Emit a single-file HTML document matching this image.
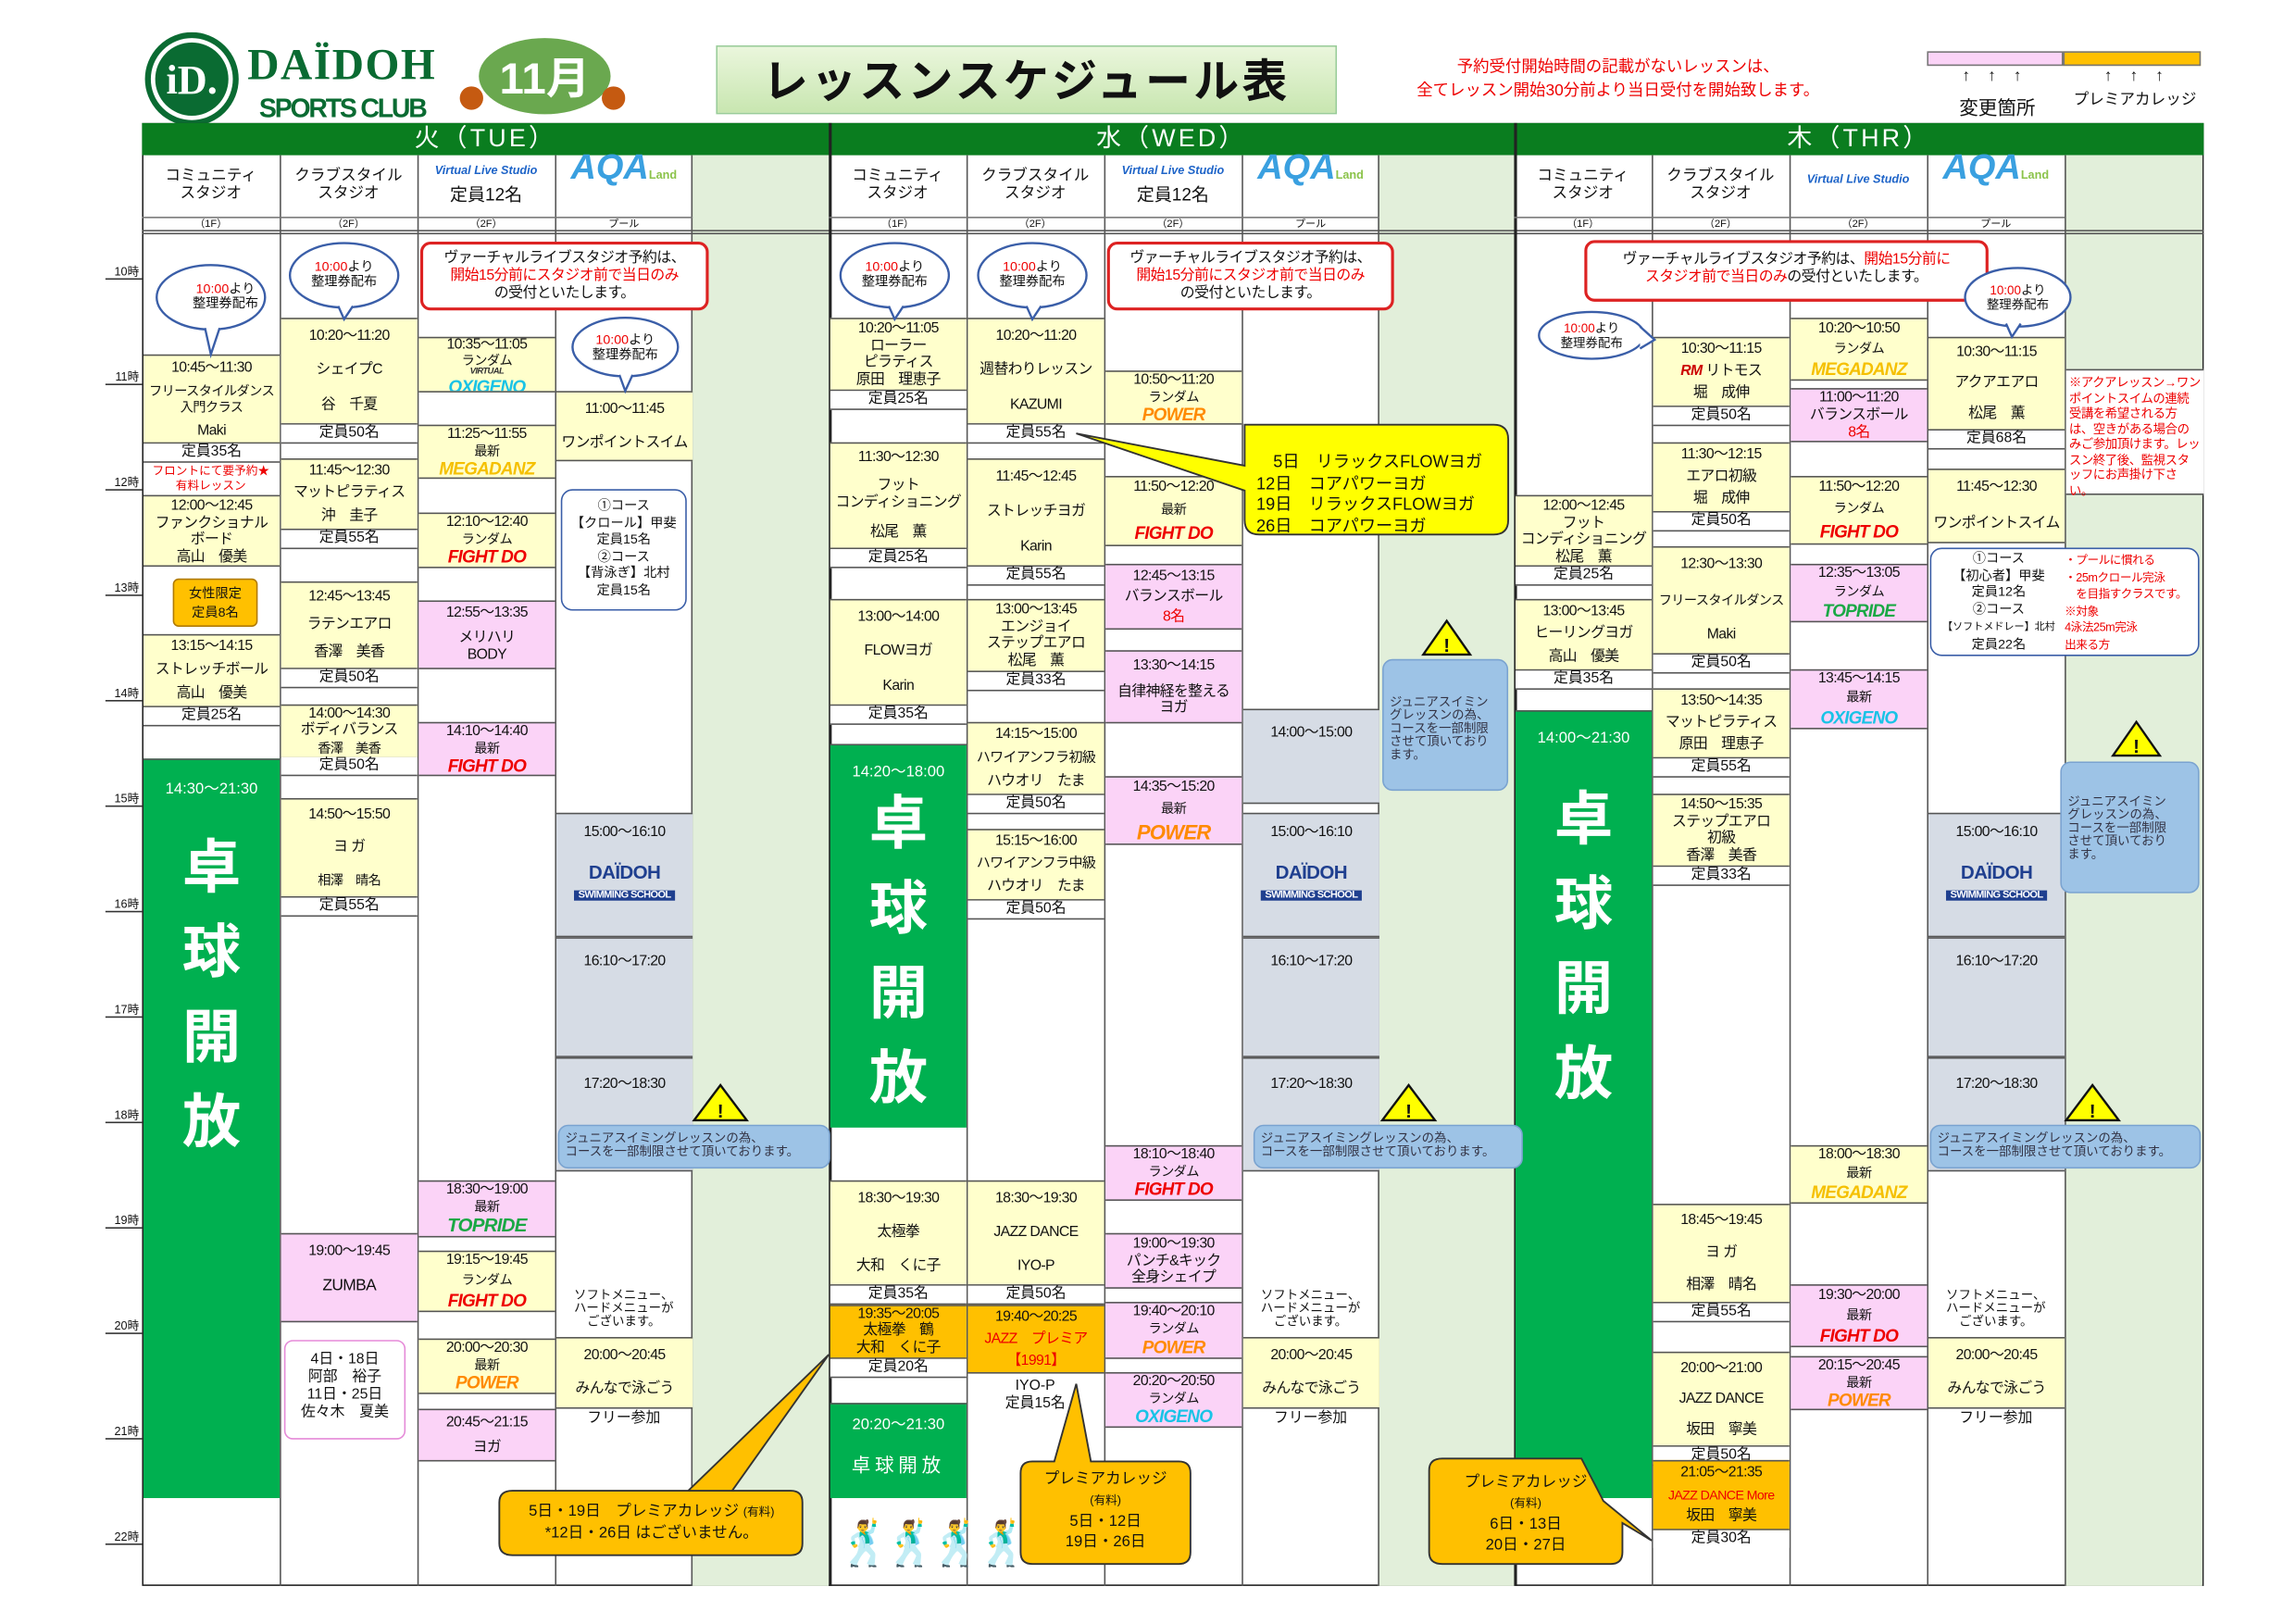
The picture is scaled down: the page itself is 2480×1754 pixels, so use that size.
<!DOCTYPE html>
<html><head><meta charset="utf-8">
<style>
*{margin:0;padding:0;box-sizing:border-box}
html,body{width:2480px;height:1754px;overflow:hidden;background:#fff}
#s{position:absolute;left:0;top:0;width:1568px;height:1109px;transform:scale(1.58163);transform-origin:0 0;font-family:"Liberation Sans","Noto Sans CJK JP",sans-serif;color:#111}
.a{position:absolute}
.b{position:absolute;width:93px;margin-left:1px;font-size:10px;letter-spacing:-.4px;line-height:12px;text-align:center;display:flex;flex-direction:column;justify-content:space-around;align-items:center;border-top:1px solid #555;border-bottom:1px solid #555;overflow:hidden;white-space:nowrap}
.y{background:#ffffcc}.p{background:#fbd3f7}.o{background:#ffc000}.g{background:#d6dce5}.w{background:#fff}
.c{position:absolute;width:93px;margin-left:1px;font-size:10px;line-height:12px;text-align:center;border-bottom:1px solid #555;background:#fff}
.v{font-size:6px;font-weight:bold;font-style:italic;line-height:7px;color:#333}
.l{font-weight:bold;font-style:italic;font-size:12px;line-height:12px;letter-spacing:-.5px}
.ox{color:#19c3e6}.mg{color:#f5c000}.fd{color:#e00}.pw{color:#ff8a00}.tp{color:#1aa845}
.tk{position:absolute;width:93px;margin-left:1px;background:#00b050;color:#fff;text-align:center;border-top:1px solid #555}
.tk .big{font-size:40px;line-height:58px;font-weight:bold}
.vl{position:absolute;top:106px;width:1px;height:977px;background:#555}
.tl{position:absolute;left:72px;width:25px;border-bottom:1px solid #333;font-size:8px;text-align:right;padding-right:2px;line-height:9px}
.rb{position:absolute;background:#fff;border:2px solid #d22;border-radius:7px;font-size:10px;line-height:12px;text-align:center;padding-top:4px;letter-spacing:-.3px}
.r{color:#e00}
.cb{position:absolute;background:#9dc3e6;border:1px solid #7aa3d0;border-radius:7px;font-size:8.5px;line-height:9px;color:#334;padding:4px}
.hd{position:absolute;top:106px;height:42px;width:94px;font-size:10.5px;line-height:12px;text-align:center;padding-top:8px}
.fl{position:absolute;top:148px;height:9px;width:94px;font-size:7px;line-height:9px;text-align:center;border-top:1px solid #777}
.pg{position:absolute;top:106px;height:977px;width:94px;background:#e2efda}
.sm{position:absolute;font-size:9px;line-height:10px;text-align:center;width:94px}
</style></head><body><div id="s">

<!-- header -->
<svg class="a" style="left:97px;top:22px" width="330" height="64">
<circle cx="34" cy="32" r="30" fill="#fff" stroke="#0a6b32" stroke-width="4"/>
<circle cx="34" cy="32" r="25" fill="#0a6b32"/>
<text x="34" y="42" font-size="28" font-weight="bold" fill="#fff" text-anchor="middle" font-family="Liberation Serif">iD.</text>
<text x="72" y="32" font-size="30" font-weight="bold" fill="#0a6b32" font-family="Liberation Serif" textLength="128">DAÏDOH</text>
<text x="80" y="58" font-size="18" font-weight="bold" fill="#0a6b32" textLength="115">SPORTS CLUB</text>
<ellipse cx="275" cy="30" rx="45" ry="26" fill="#6aa84f"/>
<text x="275" y="42" font-size="30" font-weight="bold" fill="#fff" text-anchor="middle">11月</text>
<circle cx="225" cy="45" r="8" fill="#c55a11"/><circle cx="322" cy="45" r="8" fill="#c55a11"/>
</svg>
<div class="a" style="left:489px;top:31px;width:424px;height:47px;background:linear-gradient(#eaf6dc,#c8e6b0);border:1px solid #9c9;font-size:31px;font-weight:bold;text-align:center;line-height:47px;letter-spacing:2px">レッスンスケジュール表</div>
<div class="a r" style="left:950px;top:38px;width:310px;font-size:11px;line-height:16px;text-align:center">予約受付開始時間の記載がないレッスンは、<br>全てレッスン開始30分前より当日受付を開始致します。</div>
<div class="a" style="left:1316px;top:35px;width:93px;height:10px;background:#fbd3f7;border:1px solid #777"></div>
<div class="a" style="left:1409px;top:35px;width:94px;height:10px;background:#ffc000;border:1px solid #777"></div>
<div class="a" style="left:1340px;top:46px;font-size:11px;letter-spacing:12px">↑↑↑</div>
<div class="a" style="left:1437px;top:46px;font-size:11px;letter-spacing:12px">↑↑↑</div>
<div class="a" style="left:1338px;top:63px;font-size:13px">変更箇所</div>
<div class="a" style="left:1416px;top:60px;font-size:10.5px">プレミアカレッジ</div>

<!-- table frame -->
<div class="a" style="left:97px;top:84px;width:1408px;height:999px;border:1.5px solid #222"></div>
<div class="a" style="left:97px;top:84px;width:1408px;height:22px;background:#0a7d1f;color:#fff;font-size:17px;line-height:22px">
<span class="a" style="left:0;width:469px;text-align:center;letter-spacing:2px">火（TUE）</span>
<span class="a" style="left:469px;width:468px;text-align:center;letter-spacing:2px">水（WED）</span>
<span class="a" style="left:937px;width:471px;text-align:center;letter-spacing:2px">木（THR）</span></div>
<div class="pg" style="left:472px"></div><div class="pg" style="left:941px"></div><div class="pg" style="left:1410px"></div>
<div class="a" style="left:97px;top:157px;width:1408px;height:3px;border-top:1px solid #555;border-bottom:1px solid #555"></div>

<!-- vertical lines -->
<div class="vl" style="left:191px"></div><div class="vl" style="left:285px"></div><div class="vl" style="left:379px"></div><div class="vl" style="left:472px"></div>
<div class="vl" style="left:566px;top:84px;height:999px;width:1.5px;background:#222"></div>
<div class="vl" style="left:660px"></div><div class="vl" style="left:754px"></div><div class="vl" style="left:848px"></div><div class="vl" style="left:941px"></div>
<div class="vl" style="left:1034px;top:84px;height:999px;width:1.5px;background:#222"></div>
<div class="vl" style="left:1128px"></div><div class="vl" style="left:1222px"></div><div class="vl" style="left:1316px"></div><div class="vl" style="left:1410px"></div>

<!-- col headers -->
<div class="hd" style="left:97px">コミュニティ<br>スタジオ</div><div class="hd" style="left:191px">クラブスタイル<br>スタジオ</div>
<div class="hd" style="left:285px;padding-top:4px"><span style="color:#1e64c8;font-size:8px;font-weight:bold;font-style:italic">Virtual Live Studio</span><br><span style="font-size:12px;line-height:20px">定員12名</span></div>
<div class="hd" style="left:379px;padding-top:3px"><span style="color:#3aa0e0;font-size:24px;font-weight:bold;font-style:italic">AQA</span><span style="color:#8bc34a;font-size:8px;font-weight:bold">Land</span></div>
<div class="hd" style="left:566px">コミュニティ<br>スタジオ</div><div class="hd" style="left:660px">クラブスタイル<br>スタジオ</div>
<div class="hd" style="left:754px;padding-top:4px"><span style="color:#1e64c8;font-size:8px;font-weight:bold;font-style:italic">Virtual Live Studio</span><br><span style="font-size:12px;line-height:20px">定員12名</span></div>
<div class="hd" style="left:848px;padding-top:3px"><span style="color:#3aa0e0;font-size:24px;font-weight:bold;font-style:italic">AQA</span><span style="color:#8bc34a;font-size:8px;font-weight:bold">Land</span></div>
<div class="hd" style="left:1034px">コミュニティ<br>スタジオ</div><div class="hd" style="left:1128px">クラブスタイル<br>スタジオ</div>
<div class="hd" style="left:1222px;padding-top:10px"><span style="color:#1e64c8;font-size:8px;font-weight:bold;font-style:italic">Virtual Live Studio</span></div>
<div class="hd" style="left:1316px;padding-top:3px"><span style="color:#3aa0e0;font-size:24px;font-weight:bold;font-style:italic">AQA</span><span style="color:#8bc34a;font-size:8px;font-weight:bold">Land</span></div>
<div class="fl" style="left:97px">（1F）</div><div class="fl" style="left:191px">（2F）</div><div class="fl" style="left:285px">（2F）</div><div class="fl" style="left:379px">プール</div>
<div class="fl" style="left:566px">（1F）</div><div class="fl" style="left:660px">（2F）</div><div class="fl" style="left:754px">（2F）</div><div class="fl" style="left:848px">プール</div>
<div class="fl" style="left:1034px">（1F）</div><div class="fl" style="left:1128px">（2F）</div><div class="fl" style="left:1222px">（2F）</div><div class="fl" style="left:1316px">プール</div>

<!-- time labels -->
<div class="tl" style="top:181px">10時</div><div class="tl" style="top:253px">11時</div><div class="tl" style="top:325px">12時</div><div class="tl" style="top:397px">13時</div><div class="tl" style="top:469px">14時</div><div class="tl" style="top:541px">15時</div><div class="tl" style="top:613px">16時</div><div class="tl" style="top:685px">17時</div><div class="tl" style="top:757px">18時</div><div class="tl" style="top:829px">19時</div><div class="tl" style="top:901px">20時</div><div class="tl" style="top:973px">21時</div><div class="tl" style="top:1045px">22時</div>

<!-- ===== TUE ===== -->
<div class="b y" style="left:97px;top:242px;height:61px;line-height:11px"><span>10:45～11:30</span><span style="font-size:9px">フリースタイルダンス<br>入門クラス</span><span>Maki</span></div>
<div class="c" style="left:97px;top:303px">定員35名</div>
<div class="sm r" style="left:97px;top:317px;font-size:8px">フロントにて要予約★<br>有料レッスン</div>
<div class="b y" style="left:97px;top:338px;height:49px;line-height:11px"><span>12:00～12:45</span><span>ファンクショナル<br>ボード</span><span>高山　優美</span></div>
<div class="a" style="left:118px;top:395px;width:58px;height:33px;background:#ffc000;border:1px solid #b07a00;border-radius:4px;font-size:9px;line-height:13px;text-align:center;padding-top:3px">女性限定<br>定員8名</div>
<div class="b y" style="left:97px;top:433px;height:50px"><span>13:15～14:15</span><span>ストレッチボール</span><span>高山　優美</span></div>
<div class="c" style="left:97px;top:483px">定員25名</div>
<div class="tk" style="left:97px;top:518px;height:505px"><div style="font-size:10.5px;margin-top:12px">14:30～21:30</div><div class="big" style="margin-top:18px">卓<br>球<br>開<br>放</div></div>

<div class="b y" style="left:191px;top:217px;height:73px"><span>10:20～11:20</span><span>シェイプC</span><span>谷　千夏</span></div>
<div class="c" style="left:191px;top:290px">定員50名</div>
<div class="b y" style="left:191px;top:313px;height:49px"><span>11:45～12:30</span><span>マットピラティス</span><span>沖　圭子</span></div>
<div class="c" style="left:191px;top:362px">定員55名</div>
<div class="b y" style="left:191px;top:397px;height:60px"><span>12:45～13:45</span><span>ラテンエアロ</span><span>香澤　美香</span></div>
<div class="c" style="left:191px;top:457px">定員50名</div>
<div class="b y" style="left:191px;top:481px;height:37px;line-height:10px"><span>14:00～14:30</span><span>ボディバランス</span><span style="font-size:9px">香澤　美香</span></div>
<div class="c" style="left:191px;top:517px">定員50名</div>
<div class="b y" style="left:191px;top:545px;height:68px"><span>14:50～15:50</span><span>ヨ ガ</span><span style="font-size:9px">相澤　晴名</span></div>
<div class="c" style="left:191px;top:613px">定員55名</div>
<div class="b p" style="left:191px;top:842px;height:61px"><span>19:00～19:45</span><span style="font-size:11px">ZUMBA</span><span></span></div>
<div class="a" style="left:194px;top:915px;width:83px;height:68px;background:#fff;border:1.5px solid #e58ad8;border-radius:6px;font-size:10px;line-height:12px;text-align:center;padding-top:7px">4日・18日<br>阿部　裕子<br>11日・25日<br>佐々木　夏美</div>

<div class="b y" style="left:285px;top:230px;height:38px;line-height:10px"><span>10:35～11:05</span><span style="font-size:9px">ランダム</span><span class="v">VIRTUAL</span><span class="l ox">OXIGENO</span></div>
<div class="b y" style="left:285px;top:290px;height:37px;line-height:10px"><span>11:25～11:55</span><span style="font-size:9px">最新</span><span class="l mg">MEGADANZ</span></div>
<div class="b y" style="left:285px;top:350px;height:38px;line-height:10px"><span>12:10～12:40</span><span style="font-size:9px">ランダム</span><span class="l fd">FIGHT DO</span></div>
<div class="b p" style="left:285px;top:410px;height:47px"><span>12:55～13:35</span><span>メリハリ<br>BODY</span></div>
<div class="b p" style="left:285px;top:493px;height:37px;line-height:10px"><span>14:10～14:40</span><span style="font-size:9px">最新</span><span class="l fd">FIGHT DO</span></div>
<div class="b p" style="left:285px;top:806px;height:39px;line-height:10px"><span>18:30～19:00</span><span style="font-size:9px">最新</span><span class="l tp" style="font-size:13px">TOPRIDE</span></div>
<div class="b y" style="left:285px;top:854px;height:42px;line-height:10px"><span>19:15～19:45</span><span style="font-size:9px">ランダム</span><span class="l fd">FIGHT DO</span></div>
<div class="b y" style="left:285px;top:914px;height:38px;line-height:10px"><span>20:00～20:30</span><span style="font-size:9px">最新</span><span class="l pw">POWER</span></div>
<div class="b p" style="left:285px;top:962px;height:36px"><span>20:45～21:15</span><span>ヨガ</span></div>

<div class="b y" style="left:379px;top:267px;height:48px"><span>11:00～11:45</span><span>ワンポイントスイム</span></div>
<div class="b g" style="left:379px;top:555px;height:85px"><span>15:00～16:10</span><span style="color:#1f3f8f;font-weight:bold;font-size:13px;line-height:13px">DAÏDOH<br><span style="font-size:7px;background:#1f3f8f;color:#fff;padding:0 3px">SWIMMING SCHOOL</span></span><span></span></div>
<div class="b g" style="left:379px;top:640px;height:82px;justify-content:flex-start;padding-top:10px"><span>16:10～17:20</span></div>
<div class="b g" style="left:379px;top:722px;height:78px;justify-content:flex-start;padding-top:12px"><span>17:20～18:30</span></div>
<div class="sm" style="left:379px;top:880px;font-size:8.5px;line-height:9px">ソフトメニュー、<br>ハードメニューが<br>ございます。</div>
<div class="b y" style="left:379px;top:913px;height:49px"><span>20:00～20:45</span><span>みんなで泳ごう</span></div>
<div class="sm" style="left:379px;top:964px;font-size:10px">フリー参加</div>

<!-- ===== WED ===== -->
<div class="b y" style="left:566px;top:217px;height:50px;line-height:11px"><span>10:20～11:05</span><span>ローラー<br>ピラティス</span><span>原田　理恵子</span></div>
<div class="c" style="left:566px;top:267px">定員25名</div>
<div class="b y" style="left:566px;top:302px;height:73px"><span>11:30～12:30</span><span>フット<br>コンディショニング</span><span>松尾　薫</span></div>
<div class="c" style="left:566px;top:375px">定員25名</div>
<div class="b y" style="left:566px;top:409px;height:73px"><span>13:00～14:00</span><span>FLOWヨガ</span><span>Karin</span></div>
<div class="c" style="left:566px;top:482px">定員35名</div>
<div class="tk" style="left:566px;top:508px;height:262px"><div style="font-size:10.5px;margin-top:10px">14:20～18:00</div><div class="big" style="margin-top:0px">卓<br>球<br>開<br>放</div></div>
<div class="b y" style="left:566px;top:806px;height:72px"><span>18:30～19:30</span><span>太極拳</span><span>大和　くに子</span></div>
<div class="c" style="left:566px;top:878px">定員35名</div>
<div class="b o" style="left:566px;top:891px;height:37px;line-height:10px"><span>19:35～20:05</span><span>太極拳　鶴</span><span>大和　くに子</span></div>
<div class="c" style="left:566px;top:928px">定員20名</div>
<div class="tk" style="left:566px;top:958px;height:65px"><div style="font-size:10.5px;margin-top:6px">20:20～21:30</div><div style="font-size:13px;margin-top:10px;letter-spacing:3px">卓球開放</div></div>
<div class="a" style="left:572px;top:1035px;font-size:30px;line-height:40px;letter-spacing:-6px">🕺🕺🕺🕺</div>

<div class="b y" style="left:660px;top:217px;height:73px"><span>10:20～11:20</span><span>週替わりレッスン</span><span>KAZUMI</span></div>
<div class="c" style="left:660px;top:290px">定員55名</div>
<div class="b y" style="left:660px;top:313px;height:74px"><span>11:45～12:45</span><span>ストレッチヨガ</span><span>Karin</span></div>
<div class="c" style="left:660px;top:387px">定員55名</div>
<div class="b y" style="left:660px;top:409px;height:50px;line-height:11px"><span>13:00～13:45</span><span>エンジョイ<br>ステップエアロ</span><span>松尾　薫</span></div>
<div class="c" style="left:660px;top:459px">定員33名</div>
<div class="b y" style="left:660px;top:493px;height:50px"><span>14:15～15:00</span><span style="font-size:9.5px">ハワイアンフラ初級</span><span>ハウオリ　たま</span></div>
<div class="c" style="left:660px;top:543px">定員50名</div>
<div class="b y" style="left:660px;top:566px;height:49px"><span>15:15～16:00</span><span style="font-size:9.5px">ハワイアンフラ中級</span><span>ハウオリ　たま</span></div>
<div class="c" style="left:660px;top:615px">定員50名</div>
<div class="b y" style="left:660px;top:806px;height:72px"><span>18:30～19:30</span><span>JAZZ DANCE</span><span>IYO-P</span></div>
<div class="c" style="left:660px;top:878px">定員50名</div>
<div class="b o" style="left:660px;top:891px;height:47px"><span>19:40～20:25</span><span class="r">JAZZ　プレミア</span><span class="r">【1991】</span></div>
<div class="sm" style="left:660px;top:941px;font-size:10px;line-height:12px">IYO-P<br>定員15名</div>

<div class="b y" style="left:754px;top:253px;height:37px;line-height:10px"><span>10:50～11:20</span><span style="font-size:9px">ランダム</span><span class="l pw">POWER</span></div>
<div class="b y" style="left:754px;top:325px;height:48px;line-height:10px"><span>11:50～12:20</span><span style="font-size:9px">最新</span><span class="l fd">FIGHT DO</span></div>
<div class="b p" style="left:754px;top:385px;height:45px;line-height:11px"><span>12:45～13:15</span><span>バランスボール</span><span class="r">8名</span></div>
<div class="b p" style="left:754px;top:444px;height:50px;line-height:11px"><span>13:30～14:15</span><span>自律神経を整える<br>ヨガ</span></div>
<div class="b p" style="left:754px;top:530px;height:47px;line-height:10px"><span>14:35～15:20</span><span style="font-size:9px">最新</span><span class="l pw" style="font-size:14px">POWER</span></div>
<div class="b p" style="left:754px;top:782px;height:38px;line-height:10px"><span>18:10～18:40</span><span style="font-size:9px">ランダム</span><span class="l fd">FIGHT DO</span></div>
<div class="b p" style="left:754px;top:842px;height:38px;line-height:11px"><span>19:00～19:30</span><span>パンチ&amp;キック<br>全身シェイプ</span></div>
<div class="b p" style="left:754px;top:889px;height:39px;line-height:10px"><span>19:40～20:10</span><span style="font-size:9px">ランダム</span><span class="l pw">POWER</span></div>
<div class="b p" style="left:754px;top:937px;height:38px;line-height:10px"><span>20:20～20:50</span><span style="font-size:9px">ランダム</span><span class="l ox">OXIGENO</span></div>

<div class="b g" style="left:848px;top:484px;height:65px;justify-content:flex-start;padding-top:10px"><span>14:00～15:00</span></div>
<div class="b g" style="left:848px;top:555px;height:85px"><span>15:00～16:10</span><span style="color:#1f3f8f;font-weight:bold;font-size:13px;line-height:13px">DAÏDOH<br><span style="font-size:7px;background:#1f3f8f;color:#fff;padding:0 3px">SWIMMING SCHOOL</span></span><span></span></div>
<div class="b g" style="left:848px;top:640px;height:82px;justify-content:flex-start;padding-top:10px"><span>16:10～17:20</span></div>
<div class="b g" style="left:848px;top:722px;height:78px;justify-content:flex-start;padding-top:12px"><span>17:20～18:30</span></div>
<div class="sm" style="left:848px;top:880px;font-size:8.5px;line-height:9px">ソフトメニュー、<br>ハードメニューが<br>ございます。</div>
<div class="b y" style="left:848px;top:913px;height:49px"><span>20:00～20:45</span><span>みんなで泳ごう</span></div>
<div class="sm" style="left:848px;top:964px;font-size:10px">フリー参加</div>

<!-- ===== THU ===== -->
<div class="b y" style="left:1034px;top:338px;height:49px;line-height:11px"><span>12:00～12:45</span><span>フット<br>コンディショニング</span><span>松尾　薫</span></div>
<div class="c" style="left:1034px;top:387px">定員25名</div>
<div class="b y" style="left:1034px;top:409px;height:49px"><span>13:00～13:45</span><span>ヒーリングヨガ</span><span>高山　優美</span></div>
<div class="c" style="left:1034px;top:458px">定員35名</div>
<div class="tk" style="left:1034px;top:485px;height:538px"><div style="font-size:10.5px;margin-top:10px">14:00～21:30</div><div class="big" style="margin-top:20px">卓<br>球<br>開<br>放</div></div>

<div class="b y" style="left:1128px;top:230px;height:48px"><span>10:30～11:15</span><span><b style="color:#c00;font-style:italic">RM</b> リトモス</span><span>堀　成伸</span></div>
<div class="c" style="left:1128px;top:278px">定員50名</div>
<div class="b y" style="left:1128px;top:302px;height:48px"><span>11:30～12:15</span><span>エアロ初級</span><span>堀　成伸</span></div>
<div class="c" style="left:1128px;top:350px">定員50名</div>
<div class="b y" style="left:1128px;top:373px;height:74px"><span>12:30～13:30</span><span style="font-size:9px">フリースタイルダンス</span><span>Maki</span></div>
<div class="c" style="left:1128px;top:447px">定員50名</div>
<div class="b y" style="left:1128px;top:470px;height:48px"><span>13:50～14:35</span><span>マットピラティス</span><span>原田　理恵子</span></div>
<div class="c" style="left:1128px;top:518px">定員55名</div>
<div class="b y" style="left:1128px;top:542px;height:50px;line-height:11px"><span>14:50～15:35</span><span>ステップエアロ<br>初級</span><span>香澤　美香</span></div>
<div class="c" style="left:1128px;top:592px">定員33名</div>
<div class="b y" style="left:1128px;top:822px;height:68px"><span>18:45～19:45</span><span>ヨ ガ</span><span>相澤　晴名</span></div>
<div class="c" style="left:1128px;top:890px">定員55名</div>
<div class="b y" style="left:1128px;top:923px;height:65px"><span>20:00～21:00</span><span>JAZZ DANCE</span><span>坂田　寧美</span></div>
<div class="c" style="left:1128px;top:988px">定員50名</div>
<div class="b o" style="left:1128px;top:997px;height:48px"><span>21:05～21:35</span><span class="r" style="font-size:9px">JAZZ DANCE More</span><span>坂田　寧美</span></div>
<div class="c" style="left:1128px;top:1045px;border-bottom:none">定員30名</div>

<div class="b y" style="left:1222px;top:217px;height:43px;line-height:10px"><span>10:20～10:50</span><span style="font-size:9px">ランダム</span><span class="l mg">MEGADANZ</span></div>
<div class="b p" style="left:1222px;top:265px;height:37px;line-height:11px"><span>11:00～11:20</span><span>バランスボール</span><span class="r">8名</span></div>
<div class="b y" style="left:1222px;top:325px;height:47px;line-height:10px"><span>11:50～12:20</span><span style="font-size:9px">ランダム</span><span class="l fd">FIGHT DO</span></div>
<div class="b p" style="left:1222px;top:385px;height:40px;line-height:10px"><span>12:35～13:05</span><span style="font-size:9px">ランダム</span><span class="l tp">TOPRIDE</span></div>
<div class="b p" style="left:1222px;top:457px;height:41px;line-height:10px"><span>13:45～14:15</span><span style="font-size:9px">最新</span><span class="l ox">OXIGENO</span></div>
<div class="b y" style="left:1222px;top:782px;height:40px;line-height:10px"><span>18:00～18:30</span><span style="font-size:9px">最新</span><span class="l mg">MEGADANZ</span></div>
<div class="b p" style="left:1222px;top:877px;height:43px;line-height:10px"><span>19:30～20:00</span><span style="font-size:9px">最新</span><span class="l fd">FIGHT DO</span></div>
<div class="b p" style="left:1222px;top:926px;height:37px;line-height:10px"><span>20:15～20:45</span><span style="font-size:9px">最新</span><span class="l pw">POWER</span></div>

<div class="b y" style="left:1316px;top:230px;height:64px"><span>10:30～11:15</span><span>アクアエアロ</span><span>松尾　薫</span></div>
<div class="c" style="left:1316px;top:294px">定員68名</div>
<div class="b y" style="left:1316px;top:320px;height:51px"><span>11:45～12:30</span><span>ワンポイントスイム</span></div>
<div class="a" style="left:1411px;top:252px;width:94px;height:86px;background:#fff;border-top:1px solid #555;border-bottom:1px solid #555;font-size:8.5px;line-height:10.5px;color:#e00;padding:3px 2px;letter-spacing:-.3px">※アクアレッスン→ワンポイントスイムの連続受講を希望される方は、空きがある場合のみご参加頂けます。レッスン終了後、監視スタッフにお声掛け下さい。</div>
<div class="b g" style="left:1316px;top:555px;height:85px"><span>15:00～16:10</span><span style="color:#1f3f8f;font-weight:bold;font-size:13px;line-height:13px">DAÏDOH<br><span style="font-size:7px;background:#1f3f8f;color:#fff;padding:0 3px">SWIMMING SCHOOL</span></span><span></span></div>
<div class="b g" style="left:1316px;top:640px;height:82px;justify-content:flex-start;padding-top:10px"><span>16:10～17:20</span></div>
<div class="b g" style="left:1316px;top:722px;height:78px;justify-content:flex-start;padding-top:12px"><span>17:20～18:30</span></div>
<div class="sm" style="left:1316px;top:880px;font-size:8.5px;line-height:9px">ソフトメニュー、<br>ハードメニューが<br>ございます。</div>
<div class="b y" style="left:1316px;top:913px;height:49px"><span>20:00～20:45</span><span>みんなで泳ごう</span></div>
<div class="sm" style="left:1316px;top:964px;font-size:10px">フリー参加</div>

<!-- overlay callouts (on top of grid lines) -->
<div class="rb" style="left:287px;top:165px;width:197px;height:47px">ヴァーチャルライブスタジオ予約は、<br><span class="r">開始15分前にスタジオ前で当日のみ</span><br>の受付といたします。</div>
<div class="rb" style="left:756px;top:165px;width:196px;height:47px">ヴァーチャルライブスタジオ予約は、<br><span class="r">開始15分前にスタジオ前で当日のみ</span><br>の受付といたします。</div>
<div class="rb" style="left:1082px;top:164px;width:276px;height:42px;padding-top:6px">ヴァーチャルライブスタジオ予約は、<span class="r">開始15分前に</span><br><span class="r">スタジオ前で当日のみ</span>の受付といたします。</div>
<div class="a" style="left:383px;top:334px;width:86px;height:83px;background:#fff;border:1.5px solid #3a5ea8;border-radius:8px;font-size:9px;line-height:11.5px;text-align:center;padding-top:5px">①コース<br>【クロール】甲斐<br>定員15名<br>②コース<br>【背泳ぎ】北村<br>定員15名</div>
<div class="a" style="left:1318px;top:374px;width:184px;height:74px;background:#fff;border:1.5px solid #3a5ea8;border-radius:8px"></div>
<div class="a" style="left:1320px;top:376px;width:90px;font-size:9px;line-height:11.5px;text-align:center">①コース<br>【初心者】甲斐<br>定員12名<br>②コース<br><span style="font-size:7px">【ソフトメドレー】北村</span><br>定員22名</div>
<div class="a r" style="left:1410px;top:377px;width:92px;font-size:8px;line-height:11.5px;letter-spacing:-.3px">・プールに慣れる<br>・25mクロール完泳<br>　を目指すクラスです。<br>※対象<br>4泳法25m完泳<br>出来る方</div>
<div class="cb" style="left:381px;top:768px;width:186px;height:30px">ジュニアスイミングレッスンの為、<br>コースを一部制限させて頂いております。</div>
<div class="cb" style="left:856px;top:768px;width:184px;height:30px">ジュニアスイミングレッスンの為、<br>コースを一部制限させて頂いております。</div>
<div class="cb" style="left:944px;top:450px;width:86px;height:90px;padding-top:24px">ジュニアスイミン<br>グレッスンの為、<br>コースを一部制限<br>させて頂いており<br>ます。</div>
<div class="cb" style="left:1318px;top:768px;width:185px;height:30px">ジュニアスイミングレッスンの為、<br>コースを一部制限させて頂いております。</div>
<div class="cb" style="left:1407px;top:520px;width:95px;height:90px;padding-top:22px">ジュニアスイミン<br>グレッスンの為、<br>コースを一部制限<br>させて頂いており<br>ます。</div>

<svg class="a" style="left:0;top:0" width="1568" height="1109">
<g fill="#fff" stroke="#3a5ea8" stroke-width="1.5">
<ellipse cx="144" cy="203" rx="37" ry="22"/><path d="M140 224 L144 242 L150 224"/>
<ellipse cx="235" cy="188" rx="37" ry="22"/><path d="M231 209 L235 218 L241 209"/>
<ellipse cx="427" cy="237" rx="36" ry="20"/><path d="M423 256 L427 267 L432 256"/>
<ellipse cx="611" cy="188" rx="37" ry="22"/><path d="M607 209 L611 218 L617 209"/>
<ellipse cx="705" cy="188" rx="37" ry="22"/><path d="M701 209 L705 218 L711 209"/>
<ellipse cx="1087" cy="229" rx="36" ry="16"/><path d="M1120 223 L1130 232 L1120 238"/>
<ellipse cx="1378" cy="203" rx="36" ry="20"/><path d="M1370 221 L1374 230 L1380 221"/>
</g>
<path d="M850 290 L1020 290 Q1030 290 1030 300 L1030 355 Q1030 365 1020 365 L860 365 Q850 365 850 355 L850 335 L735 296 L850 318 Z" fill="#ffff00" stroke="#333" stroke-width="1.2"/>
<path d="M350 1018 L540 1018 Q548 1018 548 1026 L548 1054 Q548 1062 540 1062 L350 1062 Q341 1062 341 1054 L341 1026 Q341 1018 350 1018 L470 1018 L566 925 L500 1018 Z" fill="#ffc000" stroke="#333" stroke-width="1.2"/>
<path d="M705 998 L720 998 L735 945 L745 998 L805 998 Q813 998 813 1006 L813 1060 Q813 1068 805 1068 L705 1068 Q697 1068 697 1060 L697 1006 Q697 998 705 998 Z" fill="#ffc000" stroke="#333" stroke-width="1.2"/>
<path d="M985 996 L1080 996 L1095 1025 L1128 1052 L1108 1040 L1108 1060 Q1108 1068 1100 1068 L985 1068 Q976 1068 976 1060 L976 1004 Q976 996 985 996 Z" fill="#ffc000" stroke="#333" stroke-width="1.2"/>
<g fill="#ffff00" stroke="#111" stroke-width="1.5">
<path d="M492 741 L510 765 L474 765 Z"/><path d="M962 741 L980 765 L944 765 Z"/><path d="M988 424 L1004 447 L972 447 Z"/><path d="M1429 741 L1447 765 L1411 765 Z"/><path d="M1459 493 L1475 516 L1443 516 Z"/>
</g>
<g fill="#111" font-size="13" font-weight="bold" text-anchor="middle"><text x="492" y="763">!</text><text x="962" y="763">!</text><text x="988" y="445">!</text><text x="1429" y="763">!</text><text x="1459" y="514">!</text></g>
</svg>
<div class="sm" style="left:107px;top:192px"><span class="r">10:00</span>より<br>整理券配布</div>
<div class="sm" style="left:188px;top:177px"><span class="r">10:00</span>より<br>整理券配布</div>
<div class="sm" style="left:380px;top:227px"><span class="r">10:00</span>より<br>整理券配布</div>
<div class="sm" style="left:564px;top:177px"><span class="r">10:00</span>より<br>整理券配布</div>
<div class="sm" style="left:658px;top:177px"><span class="r">10:00</span>より<br>整理券配布</div>
<div class="sm" style="left:1040px;top:219px;font-size:8.5px"><span class="r">10:00</span>より<br>整理券配布</div>
<div class="sm" style="left:1331px;top:193px;font-size:8.5px"><span class="r">10:00</span>より<br>整理券配布</div>
<div class="a" style="left:858px;top:309px;font-size:11.5px;line-height:14.5px;white-space:nowrap">　5日　リラックスFLOWヨガ<br>12日　コアパワーヨガ<br>19日　リラックスFLOWヨガ<br>26日　コアパワーヨガ</div>
<div class="a" style="left:345px;top:1025px;width:200px;font-size:10.5px;line-height:15px;text-align:center">5日・19日　プレミアカレッジ <span style="font-size:8px">(有料)</span><br>*12日・26日 はございません。</div>
<div class="a" style="left:697px;top:1003px;width:116px;font-size:10.5px;line-height:14px;text-align:center">プレミアカレッジ<br><span style="font-size:8px">(有料)</span><br>5日・12日<br>19日・26日</div>
<div class="a" style="left:976px;top:1005px;width:132px;font-size:10.5px;line-height:14px;text-align:center">プレミアカレッジ<br><span style="font-size:8px">(有料)</span><br>6日・13日<br>20日・27日</div>
</div></body></html>
